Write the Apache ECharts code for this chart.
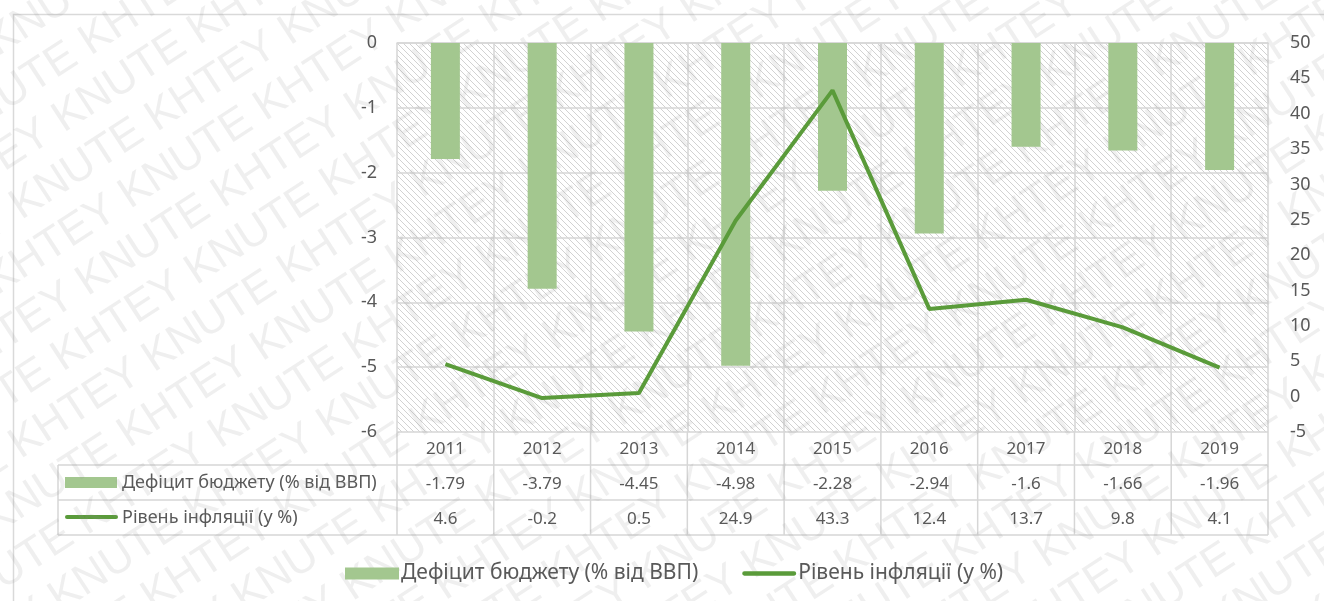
<!DOCTYPE html>
<html>
<head>
<meta charset="utf-8">
<script src="https://cdn.jsdelivr.net/npm/echarts@6/dist/echarts.min.js"></script>
<style>html,body{margin:0;padding:0;background:#fff;}#chart{width:1324px;height:601px;}</style>
</head>
<body>
<div id="chart"></div>
<script>
const years = ['2011','2012','2013','2014','2015','2016','2017','2018','2019'];
const deficit = [-1.79,-3.79,-4.45,-4.98,-2.28,-2.94,-1.6,-1.66,-1.96];
const inflation = [4.6,-0.2,0.5,24.9,43.3,12.4,13.7,9.8,4.1];
const deficitName = 'Дефіцит бюджету (% від ВВП)';
const inflationName = 'Рівень інфляції (у %)';
const watermarkWords = 'KHTEY KNUTE ';

const BAR = '#a3c78f', LINE = '#5a9b3a', GRID = '#d6d6d6', TXT = '#595959';
const FONT = '"Noto Sans", sans-serif';
const G = {left: 397, right: 56, top: 43, bottom: 169};
const W = 1324, H = 601;
const gx0 = G.left, gx1 = W - G.right, gy1 = H - G.bottom;

// hatch pattern
const pc = document.createElement('canvas');
pc.width = 6; pc.height = 6;
const pg = pc.getContext('2d');
pg.strokeStyle = '#d2d2d2'; pg.lineWidth = 1;
pg.beginPath();
pg.moveTo(0,0); pg.lineTo(6,6);
pg.moveTo(-3,3); pg.lineTo(3,9);
pg.moveTo(3,-3); pg.lineTo(9,3);
pg.stroke();

const chart = echarts.init(document.getElementById('chart'));

const wmRows = [];
for (let k = -14; k <= 14; k++) {
  wmRows.push({
    type: 'text', x: -1000 + ((k * 97) % 180 + 180) % 180, y: k * 50,
    style: {text: watermarkWords.repeat(14), font: '44px "Liberation Sans"', fill: 'rgba(150,150,150,0.15)'}
  });
}

const tableAxis = (data, offset) => ({
  type: 'category', data: data, position: 'bottom', offset: offset, boundaryGap: true,
  axisLine: {show: false}, axisTick: {show: false}, splitLine: {show: false},
  axisLabel: {margin: 9, fontSize: 17, color: TXT, fontFamily: FONT, interval: 0}
});

chart.setOption({
  animation: false,
  backgroundColor: '#fff',
  textStyle: {fontFamily: FONT},
  grid: {left: G.left, right: G.right, top: G.top, bottom: G.bottom, show: true,
         backgroundColor: {image: pc, repeat: 'repeat'}, borderWidth: 0},
  legend: {
    bottom: 12, left: 340, itemWidth: 54, itemGap: 44, itemHeight: 12,
    textStyle: {fontSize: 21, color: TXT, fontFamily: FONT, padding: [0, 0, 0, -3]},
    data: [{name: deficitName, icon: 'rect'},
           {name: inflationName, icon: 'path://M2,0 L48,0 A2,2 0 0 1 48,4 L2,4 A2,2 0 0 1 2,0 Z'}]
  },
  xAxis: [
    {type: 'category', data: years, position: 'bottom', boundaryGap: true,
     axisLine: {show: true, lineStyle: {color: GRID, width: 1.5}},
     axisTick: {show: false},
     splitLine: {show: true, lineStyle: {color: GRID, width: 1.5}},
     axisLabel: {margin: 9, fontSize: 17, color: TXT, fontFamily: FONT, interval: 0}},
    tableAxis(deficit.map(String), 35),
    tableAxis(inflation.map(String), 70)
  ],
  yAxis: [
    {type: 'value', min: -6, max: 0, interval: 1, position: 'left',
     axisLine: {show: false}, axisTick: {show: false},
     splitLine: {show: true, lineStyle: {color: GRID, width: 1.5}},
     axisLabel: {margin: 20, fontSize: 18, color: TXT, fontFamily: FONT}},
    {type: 'value', min: -5, max: 50, interval: 5, position: 'right',
     axisLine: {show: false}, axisTick: {show: false}, splitLine: {show: false},
     axisLabel: {margin: 22, fontSize: 18, color: TXT, fontFamily: FONT}}
  ],
  series: [
    {name: deficitName, type: 'bar', data: deficit, xAxisIndex: 0, yAxisIndex: 0,
     barWidth: 29, itemStyle: {color: BAR}},
    {name: inflationName, type: 'line', data: inflation, xAxisIndex: 0, yAxisIndex: 1,
     symbol: 'none', lineStyle: {color: LINE, width: 4}, itemStyle: {color: LINE}}
  ]
});

// table lines derived from the category axis
const c0 = chart.convertToPixel({xAxisIndex: 0}, years[0]);
const c1 = chart.convertToPixel({xAxisIndex: 0}, years[1]);
const band = c1 - c0;
const tableRowY = [465, 500, 535];
const graphic = [
  {type: 'rect', shape: {x: 13.5, y: 14.5, width: 1400, height: 700}, style: {fill: 'none', stroke: '#d9d9d9', lineWidth: 1.5}, z: 0},
  ...tableRowY.map(y => ({type: 'line', shape: {x1: 58, y1: y, x2: gx1, y2: y}, style: {stroke: GRID, lineWidth: 1.5}})),
  {type: 'line', shape: {x1: 58, y1: 465, x2: 58, y2: 535}, style: {stroke: GRID, lineWidth: 1.5}},
  ...years.concat(['end']).map((y, i) => {
    const x = c0 - band / 2 + i * band;
    return {type: 'line', shape: {x1: x, y1: gy1, x2: x, y2: 535}, style: {stroke: GRID, lineWidth: 1.5}};
  }),
  {type: 'rect', shape: {x: 65, y: 477, width: 52, height: 11}, style: {fill: BAR}},
  {type: 'line', shape: {x1: 67, y1: 517, x2: 116, y2: 517}, style: {stroke: LINE, lineWidth: 4, lineCap: 'round'}},
  {type: 'text', x: 122, y: 483, style: {text: deficitName, font: '18px ' + FONT, fill: TXT, verticalAlign: 'middle'}},
  {type: 'text', x: 122, y: 518, style: {text: inflationName, font: '18px ' + FONT, fill: TXT, verticalAlign: 'middle'}},
  {type: 'group', x: 662, y: 300, rotation: 33 * Math.PI / 180, children: wmRows, z: 100, silent: true}
];
chart.setOption({graphic: graphic});
</script>
</body>
</html>
